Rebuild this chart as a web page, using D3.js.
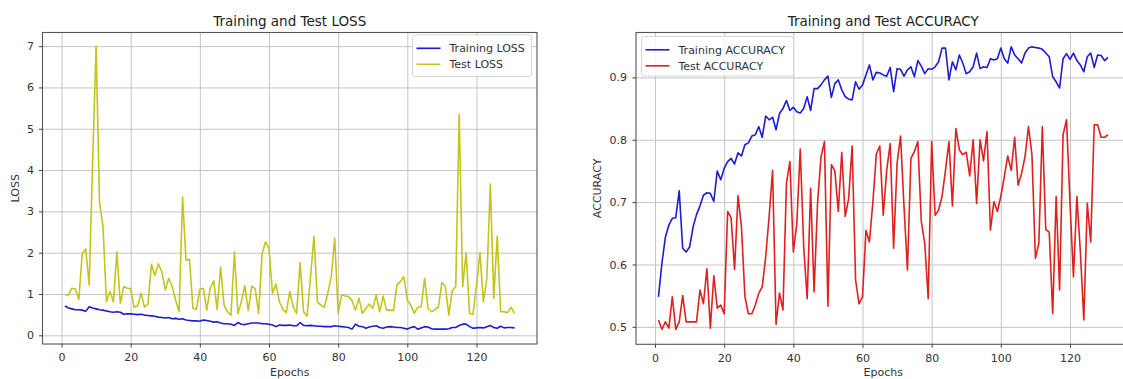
<!DOCTYPE html>
<html>
<head>
<meta charset="utf-8">
<script src="https://cdn.jsdelivr.net/npm/d3@7"></script>
<style>
    body { margin: 0; background: #fff; }
    svg { display: block; font-family: "DejaVu Sans", sans-serif; }
</style>
</head>
<body>
<div id="chart"></div>
<script>
// values per epoch, epochs 1..131
const trainLoss = [0.71, 0.66, 0.64, 0.62, 0.62, 0.61, 0.58, 0.69, 0.66, 0.64,
    0.62, 0.61, 0.59, 0.57, 0.56, 0.57, 0.56, 0.51, 0.52, 0.52,
    0.51, 0.50, 0.51, 0.49, 0.48, 0.47, 0.46, 0.44, 0.43, 0.42,
    0.43, 0.40, 0.41, 0.39, 0.40, 0.37, 0.36, 0.35, 0.35, 0.34,
    0.37, 0.36, 0.34, 0.32, 0.33, 0.30, 0.28, 0.28, 0.27, 0.24,
    0.31, 0.27, 0.26, 0.28, 0.30, 0.30, 0.30, 0.28, 0.28, 0.27,
    0.25, 0.21, 0.25, 0.24, 0.24, 0.25, 0.23, 0.23, 0.31, 0.24,
    0.23, 0.24, 0.23, 0.22, 0.22, 0.21, 0.21, 0.21, 0.23, 0.22,
    0.21, 0.20, 0.19, 0.15, 0.27, 0.22, 0.21, 0.17, 0.20, 0.22,
    0.23, 0.19, 0.17, 0.20, 0.21, 0.20, 0.19, 0.19, 0.17, 0.15,
    0.19, 0.21, 0.15, 0.18, 0.21, 0.20, 0.16, 0.15, 0.15, 0.15,
    0.15, 0.16, 0.19, 0.19, 0.24, 0.27, 0.27, 0.21, 0.17, 0.18,
    0.19, 0.18, 0.21, 0.24, 0.19, 0.17, 0.22, 0.18, 0.19, 0.19, 0.18];

const testLoss = [0.98, 0.98, 1.14, 1.12, 0.87, 1.98, 2.09, 1.22, 4.2, 7.0,
    3.21, 2.63, 0.81, 1.06, 0.81, 2.02, 0.77, 1.18, 1.14, 1.13,
    0.68, 0.71, 1.02, 0.68, 0.76, 1.72, 1.45, 1.73, 1.54, 1.10,
    1.38, 1.18, 0.85, 0.57, 3.35, 1.82, 1.84, 0.65, 0.63, 1.11,
    1.14, 0.61, 1.14, 1.32, 0.63, 1.65, 0.73, 0.57, 0.49, 2.02,
    0.53, 0.81, 1.20, 0.60, 1.19, 1.13, 0.53, 1.98, 2.26, 2.10,
    1.02, 1.24, 0.82, 0.63, 0.55, 1.06, 0.69, 0.53, 1.76, 0.57,
    0.47, 1.40, 2.40, 0.81, 0.73, 0.68, 1.02, 1.42, 2.35, 0.53,
    0.98, 0.95, 0.94, 0.84, 0.61, 0.90, 0.53, 0.65, 0.76, 0.65,
    0.98, 0.57, 0.95, 0.61, 0.61, 0.60, 1.22, 1.30, 1.42, 0.85,
    0.73, 0.53, 0.68, 0.69, 1.38, 0.65, 0.57, 0.63, 0.68, 1.28,
    1.18, 0.49, 1.08, 1.18, 5.35, 1.18, 2.00, 0.53, 0.51, 1.20,
    2.00, 0.81, 1.38, 3.66, 0.90, 2.40, 0.57, 0.57, 0.55, 0.68, 0.53];

const trainAcc = [0.548, 0.602, 0.644, 0.663, 0.674, 0.675, 0.718, 0.626, 0.620, 0.628,
    0.660, 0.680, 0.694, 0.711, 0.715, 0.714, 0.701, 0.750, 0.736, 0.754,
    0.765, 0.770, 0.761, 0.779, 0.774, 0.792, 0.795, 0.806, 0.808, 0.821,
    0.804, 0.838, 0.832, 0.836, 0.816, 0.842, 0.850, 0.863, 0.847, 0.852,
    0.845, 0.843, 0.850, 0.869, 0.847, 0.882, 0.882, 0.888, 0.896, 0.902,
    0.868, 0.890, 0.896, 0.880, 0.869, 0.865, 0.864, 0.893, 0.881, 0.888,
    0.904, 0.920, 0.896, 0.908, 0.907, 0.904, 0.902, 0.916, 0.877, 0.914,
    0.913, 0.902, 0.912, 0.917, 0.901, 0.927, 0.918, 0.906, 0.914, 0.913,
    0.917, 0.925, 0.947, 0.947, 0.896, 0.925, 0.912, 0.936, 0.923, 0.906,
    0.909, 0.917, 0.939, 0.914, 0.917, 0.916, 0.930, 0.928, 0.930, 0.947,
    0.930, 0.923, 0.949, 0.936, 0.930, 0.923, 0.939, 0.947, 0.949, 0.948,
    0.947, 0.945, 0.939, 0.933, 0.901, 0.893, 0.883, 0.930, 0.938, 0.929,
    0.939, 0.927, 0.920, 0.909, 0.933, 0.939, 0.916, 0.936, 0.935, 0.927, 0.932];

const testAcc = [0.511, 0.496, 0.508, 0.498, 0.548, 0.496, 0.508, 0.550, 0.508, 0.508,
    0.508, 0.508, 0.559, 0.537, 0.593, 0.498, 0.582, 0.530, 0.535, 0.521,
    0.685, 0.675, 0.592, 0.710, 0.660, 0.548, 0.521, 0.521, 0.535, 0.554,
    0.564, 0.612, 0.677, 0.751, 0.504, 0.554, 0.527, 0.730, 0.765, 0.620,
    0.665, 0.785, 0.628, 0.545, 0.722, 0.556, 0.698, 0.773, 0.797, 0.533,
    0.760, 0.750, 0.685, 0.780, 0.677, 0.706, 0.790, 0.575, 0.537, 0.548,
    0.655, 0.636, 0.700, 0.777, 0.790, 0.679, 0.751, 0.794, 0.626, 0.762,
    0.806, 0.693, 0.591, 0.770, 0.781, 0.797, 0.669, 0.634, 0.545, 0.797,
    0.679, 0.687, 0.709, 0.751, 0.797, 0.694, 0.818, 0.784, 0.776, 0.780,
    0.742, 0.800, 0.698, 0.800, 0.766, 0.813, 0.655, 0.701, 0.685, 0.709,
    0.741, 0.774, 0.751, 0.804, 0.727, 0.746, 0.773, 0.821, 0.776, 0.610,
    0.634, 0.821, 0.656, 0.652, 0.521, 0.709, 0.559, 0.808, 0.832, 0.700,
    0.580, 0.709, 0.620, 0.511, 0.698, 0.636, 0.824, 0.824, 0.804, 0.804, 0.808];

const epochs = trainLoss.map((d, i) => i + 1);
const epochTicks = [0, 20, 40, 60, 80, 100, 120];
const lossTicks = [0, 1, 2, 3, 4, 5, 6, 7];
const accTicks = [0.5, 0.6, 0.7, 0.8, 0.9];

const svg = d3.select('#chart').append('svg')
    .attr('width', 1123)
    .attr('height', 379);

const drawPanel = (p) => {
    const x = d3.scaleLinear().domain([-5.5, 137.5]).range([p.left, p.right]);
    const y = d3.scaleLinear().domain(p.yDomain).range([p.bottom, p.top]);
    const g = svg.append('g');

    // grid
    g.append('g')
        .attr('transform', `translate(0, ${p.bottom})`)
        .call(d3.axisBottom(x).tickValues(epochTicks).tickSize(p.top - p.bottom).tickFormat(''))
        .call(a => a.select('.domain').remove())
        .selectAll('line').attr('stroke', '#c4c4c4').attr('stroke-width', 1);
    g.append('g')
        .attr('transform', `translate(${p.left}, 0)`)
        .call(d3.axisLeft(y).tickValues(p.yTicks).tickSize(p.left - p.right).tickFormat(''))
        .call(a => a.select('.domain').remove())
        .selectAll('line').attr('stroke', '#c4c4c4').attr('stroke-width', 1);

    // lines
    p.series.forEach(s => {
        const line = d3.line()
            .x((d, i) => x(epochs[i]))
            .y(d => y(d));
        g.append('path')
            .datum(s.values)
            .attr('fill', 'none')
            .attr('stroke', s.color)
            .attr('stroke-width', 1.6)
            .attr('stroke-linejoin', 'round')
            .attr('d', line);
    });

    // spines
    g.append('rect')
        .attr('x', p.left)
        .attr('y', p.top)
        .attr('width', p.right - p.left)
        .attr('height', p.bottom - p.top)
        .attr('fill', 'none')
        .attr('stroke', '#555')
        .attr('stroke-width', 1.1);

    // axes
    const xAxis = g.append('g')
        .attr('transform', `translate(0, ${p.bottom})`)
        .call(d3.axisBottom(x).tickValues(epochTicks).tickSize(3.5).tickPadding(6));
    const yAxis = g.append('g')
        .attr('transform', `translate(${p.left}, 0)`)
        .call(d3.axisLeft(y).tickValues(p.yTicks).tickSize(3.5).tickPadding(p.yPad).tickFormat(p.yFormat));
    [xAxis, yAxis].forEach(a => {
        a.select('.domain').remove();
        a.selectAll('line').attr('stroke', '#444');
        a.selectAll('text')
            .attr('font-size', '11px')
            .attr('font-family', '"DejaVu Sans", sans-serif')
            .attr('fill', '#333');
    });

    // labels
    const cx = (p.left + p.right) / 2;
    g.append('text')
        .attr('x', cx)
        .attr('y', 25.5)
        .attr('text-anchor', 'middle')
        .attr('font-size', '13.5px')
        .attr('fill', '#222')
        .text(p.title);
    g.append('text')
        .attr('x', cx)
        .attr('y', 376)
        .attr('text-anchor', 'middle')
        .attr('font-size', '11px')
        .attr('fill', '#333')
        .text('Epochs');
    g.append('text')
        .attr('transform', `translate(${p.yLabelX}, ${(p.top + p.bottom) / 2}) rotate(-90)`)
        .attr('text-anchor', 'middle')
        .attr('font-size', '11px')
        .attr('fill', '#333')
        .text(p.yLabel);

    // legend
    const lg = g.append('g');
    lg.append('rect')
        .attr('x', p.legend.x)
        .attr('y', p.legend.y)
        .attr('width', p.legend.w)
        .attr('height', p.legend.h)
        .attr('rx', 2.5)
        .attr('fill', '#fff')
        .attr('fill-opacity', 0.8)
        .attr('stroke', '#d6d6d6');
    p.series.forEach((s, i) => {
        const ly = p.legend.y + 13.3 + i * 16;
        lg.append('line')
            .attr('x1', p.legend.x + 4)
            .attr('x2', p.legend.x + 28)
            .attr('y1', ly)
            .attr('y2', ly)
            .attr('stroke', s.color)
            .attr('stroke-width', 1.6);
        lg.append('text')
            .attr('x', p.legend.x + 37)
            .attr('y', ly)
            .attr('dy', '0.35em')
            .attr('font-size', '11px')
            .attr('fill', '#333')
            .text(s.label);
    });
};

drawPanel({
    left: 42.5, right: 537, top: 32.5, bottom: 344,
    yDomain: [-0.21, 7.33], yTicks: lossTicks, yFormat: d3.format('d'), yPad: 5,
    title: 'Training and Test LOSS', yLabel: 'LOSS', yLabelX: 19,
    legend: { x: 412.5, y: 35, w: 119, h: 41.5 },
    series: [
        { values: trainLoss, color: '#1c1cd4', label: 'Training LOSS' },
        { values: testLoss, color: '#c4c41c', label: 'Test LOSS' }
    ]
});

drawPanel({
    left: 636, right: 1130.5, top: 32.5, bottom: 344.3,
    yDomain: [0.472, 0.972], yTicks: accTicks, yFormat: d3.format('.1f'), yPad: 5.5,
    title: 'Training and Test ACCURACY', yLabel: 'ACCURACY', yLabelX: 601,
    legend: { x: 641.5, y: 36.5, w: 152, h: 39.5 },
    series: [
        { values: trainAcc, color: '#1c1cd4', label: 'Training ACCURACY' },
        { values: testAcc, color: '#e01f1f', label: 'Test ACCURACY' }
    ]
});
</script>
</body>
</html>
